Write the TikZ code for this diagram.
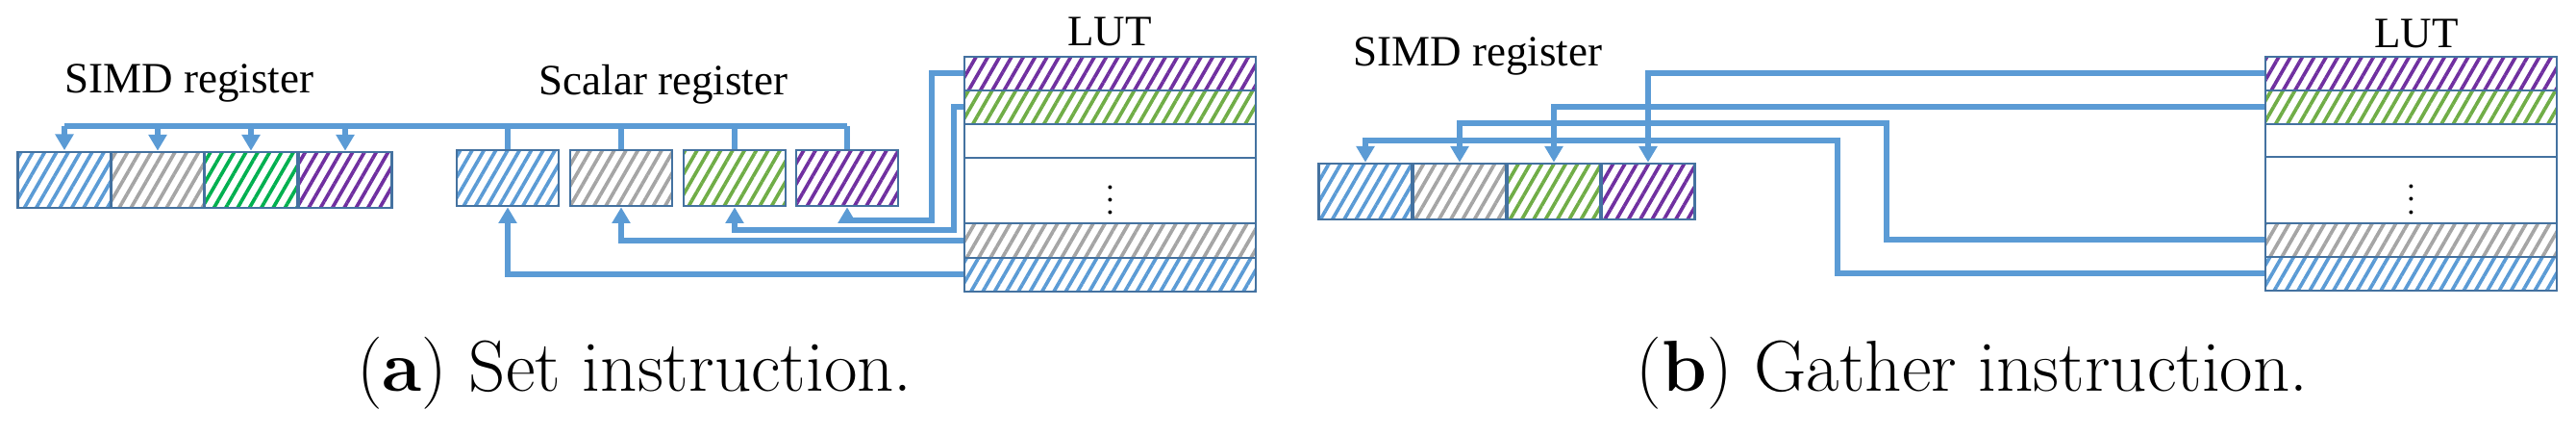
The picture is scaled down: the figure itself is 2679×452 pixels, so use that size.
\documentclass[tikz,border=0pt]{standalone}
\usepackage{fontspec}
\setmainfont{Liberation Serif}
\newfontfamily\capfont{Latin Modern Roman}
\usetikzlibrary{patterns.meta,arrows.meta}
\definecolor{hb}{RGB}{91,155,213}
\definecolor{hg}{RGB}{165,165,165}
\definecolor{hgr}{RGB}{0,176,80}
\definecolor{hl}{RGB}{112,173,71}
\definecolor{hp}{RGB}{112,48,160}
\definecolor{bd}{RGB}{68,114,160}
\definecolor{cn}{RGB}{91,155,213}
\begin{document}
\begin{tikzpicture}[x={(0.3pt,0)},y={(0,-0.3pt)},
  cell/.style={draw=bd,line width=0.8pt,inner sep=0pt,minimum width=29.1pt,minimum height=17.4pt},
  hat/.style={pattern={Lines[angle=60,distance=3.2pt,line width=1.1pt]},pattern color=#1},
  row/.style={draw=bd,line width=0.8pt,inner sep=0pt,minimum width=90.9pt},
  conn/.style={draw=cn,line width=1.8pt},
  tip/.style={-{Triangle[width=5.5pt,length=5pt]}},
  lab/.style={font=\fontsize{13.5}{15}\selectfont,inner sep=1pt},
  captxt/.style={font=\capfont\fontsize{22.5}{26}\selectfont}]
\useasboundingbox (0,0) rectangle (2679,452);
% ---- (a) ----
\node[lab] (simdA) at (197,86) {SIMD register};
\node[lab] (scal) at (690,88) {Scalar register};
\node[lab] (lutA) at (1154,33) {LUT};
\node[cell,hat=hb] (a1) at (67,187) {};
\node[cell,hat=hg] (a2) at (164,187) {};
\node[cell,hat=hgr] (a3) at (261,187) {};
\node[cell,hat=hp] (a4) at (359,187) {};
\node[cell,hat=hb,minimum width=31.8pt] (s1) at (528,185) {};
\node[cell,hat=hg,minimum width=31.8pt] (s2) at (646,185) {};
\node[cell,hat=hl,minimum width=31.8pt] (s3) at (764,185) {};
\node[cell,hat=hp,minimum width=31.8pt] (s4) at (881,185) {};
\node[row,hat=hp,minimum height=10.5pt] (L1) at (1154.5,76.5) {};
\node[row,hat=hl,minimum height=10.5pt] (L2) at (1154.5,111.5) {};
\node[row,minimum height=10.5pt] (L3) at (1154.5,146.5) {};
\node[row,minimum height=20.4pt] (L4) at (1154.5,198) {$\vdots$};
\node[row,hat=hg,minimum height=10.8pt] (L5) at (1154.5,250) {};
\node[row,hat=hb,minimum height=10.5pt] (L6) at (1154.5,285.5) {};
\coordinate (busA) at (0,131);
\draw[conn] (a1.north |- busA) -- (s4.north |- busA);
\foreach \c in {a1,a2,a3,a4} \draw[conn,tip] (\c.north |- busA) -- (\c.north);
\foreach \c in {s1,s2,s3,s4} \draw[conn] (\c.north |- busA) -- (\c.north);
\coordinate (kp) at (969,229);
\coordinate (kg) at (992,239);
\draw[conn,tip] (L1.west) -| (kp) -| (s4.south);
\draw[conn,tip] (L2.west) -| (kg) -| (s3.south);
\draw[conn,tip] (L5.west) -| (s2.south);
\draw[conn,tip] (L6.west) -| (s1.south);
\node[captxt] (capA) at (660,388) {(\textbf{a}) Set instruction.};
% ---- (b) ----
\node[lab] (simdB) at (1537,58) {SIMD register};
\node[lab] (lutB) at (2513,35) {LUT};
\node[cell,hat=hb] (b1) at (1420,199) {};
\node[cell,hat=hg] (b2) at (1518,199) {};
\node[cell,hat=hl] (b3) at (1616,199) {};
\node[cell,hat=hp] (b4) at (1714,199) {};
\node[row,hat=hp,minimum height=10.5pt] (R1) at (2507.5,76.5) {};
\node[row,hat=hl,minimum height=10.5pt] (R2) at (2507.5,111.5) {};
\node[row,minimum height=10.2pt] (R3) at (2507.5,146) {};
\node[row,minimum height=20.7pt] (R4) at (2507.5,197.5) {$\vdots$};
\node[row,hat=hg,minimum height=10.5pt] (R5) at (2507.5,249.5) {};
\node[row,hat=hb,minimum height=10.5pt] (R6) at (2507.5,284.5) {};
\coordinate (kr3) at (1962,128);
\coordinate (kr4) at (1911,146);
\draw[conn,tip] (R1.west) -| (b4.north);
\draw[conn,tip] (R2.west) -| (b3.north);
\draw[conn,tip] (R5.west) -| (kr3) -| (b2.north);
\draw[conn,tip] (R6.west) -| (kr4) -| (b1.north);
\node[captxt] (capB) at (2051,388) {(\textbf{b}) Gather instruction.};
\end{tikzpicture}
\end{document}
